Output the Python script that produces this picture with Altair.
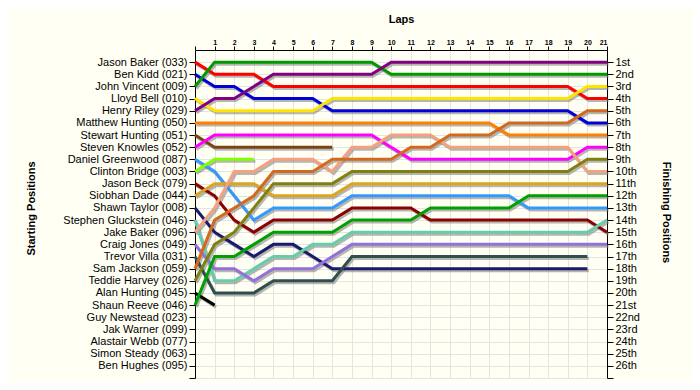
import altair as alt
import pandas as pd

start_names = ["Jason Baker (033)", "Ben Kidd (021)", "John Vincent (009)", "Lloyd Bell (010)",
               "Henry Riley (029)", "Matthew Hunting (050)", "Stewart Hunting (051)",
               "Steven Knowles (052)", "Daniel Greenwood (087)", "Clinton Bridge (003)",
               "Jason Beck (079)", "Siobhan Dade (044)", "Shawn Taylor (008)",
               "Stephen Gluckstein (046)", "Jake Baker (096)", "Craig Jones (049)",
               "Trevor Villa (031)", "Sam Jackson (059)", "Teddie Harvey (026)",
               "Alan Hunting (045)", "Shaun Reeve (046)", "Guy Newstead (023)",
               "Jak Warner (099)", "Alastair Webb (077)", "Simon Steady (063)", "Ben Hughes (095)"]

finish_labels = ["1st", "2nd", "3rd", "4th", "5th", "6th", "7th", "8th", "9th", "10th",
                 "11th", "12th", "13th", "14th", "15th", "16th", "17th", "18th", "19th", "20th",
                 "21st", "22nd", "23rd", "24th", "25th", "26th"]

lap_ticks = list(range(0, 22))

# positions per lap (lap 0 = start), one list per driver
pos_jason_baker = [1, 2, 2, 2, 3, 3, 3, 3, 3, 3, 3, 3, 3, 3, 3, 3, 3, 3, 3, 3, 4, 4]
pos_ben_kidd = [2, 3, 3, 4, 4, 4, 4, 5, 5, 5, 5, 5, 5, 5, 5, 5, 5, 5, 5, 5, 6, 6]
pos_john_vincent = [3, 1, 1, 1, 1, 1, 1, 1, 1, 1, 2, 2, 2, 2, 2, 2, 2, 2, 2, 2, 2, 2]
pos_lloyd_bell = [4, 5, 5, 5, 5, 5, 5, 4, 4, 4, 4, 4, 4, 4, 4, 4, 4, 4, 4, 4, 3, 3]
pos_henry_riley = [5, 4, 4, 3, 2, 2, 2, 2, 2, 2, 1, 1, 1, 1, 1, 1, 1, 1, 1, 1, 1, 1]
pos_matthew_hunting = [6, 6, 6, 6, 6, 6, 6, 6, 6, 6, 6, 6, 6, 6, 6, 6, 7, 7, 7, 7, 7, 7]
pos_stewart_hunting = [7, 8, 8, 8, 8, 8, 8, 8]
pos_steven_knowles = [8, 7, 7, 7, 7, 7, 7, 7, 7, 7, 8, 9, 9, 9, 9, 9, 9, 9, 9, 9, 8, 8]
pos_daniel_greenwood = [9, 10, 12, 14, 13, 13, 13, 13, 12, 12, 12, 12, 12, 12, 12, 12, 12, 13, 13, 13, 13, 13]
pos_clinton_bridge = [10, 9, 9, 9]
pos_jason_beck = [11, 12, 14, 15, 14, 14, 14, 14, 13, 13, 13, 13, 14, 14, 14, 14, 14, 14, 14, 14, 14, 15]
pos_siobhan_dade = [12, 11, 11, 11, 12, 12, 12, 12, 11, 11, 11, 11, 11, 11, 11, 11, 11, 11, 11, 11, 11, 11]
pos_shawn_taylor = [13, 15, 16, 17, 16, 16, 17, 18, 18, 18, 18, 18, 18, 18, 18, 18, 18, 18, 18, 18, 18]
pos_stephen_gluckstein = [14, 19, 19, 18, 17, 17, 16, 16, 15, 15, 15, 15, 15, 15, 15, 15, 15, 15, 15, 15, 15, 14]
pos_jake_baker = [15, 13, 10, 10, 9, 9, 9, 10, 8, 8, 7, 7, 7, 8, 8, 8, 8, 8, 8, 8, 10, 10]
pos_craig_jones = [16, 18, 18, 19, 18, 18, 18, 17, 16, 16, 16, 16, 16, 16, 16, 16, 16, 16, 16, 16, 16, 16]
pos_trevor_villa = [17, 20, 20, 20, 19, 19, 19, 19, 17, 17, 17, 17, 17, 17, 17, 17, 17, 17, 17, 17, 17]
pos_sam_jackson = [18, 14, 13, 12, 10, 10, 10, 9, 9, 9, 9, 8, 8, 7, 7, 7, 6, 6, 6, 6, 5, 5]
pos_teddie_harvey = [19, 16, 15, 13, 11, 11, 11, 11, 10, 10, 10, 10, 10, 10, 10, 10, 10, 10, 10, 10, 9, 9]
pos_alan_hunting = [20, 21]
pos_shaun_reeve = [21, 17, 17, 16, 15, 15, 15, 15, 14, 14, 14, 14, 13, 13, 13, 13, 13, 12, 12, 12, 12, 12]

series = [
    ("Jason Baker (033)", pos_jason_baker, "#FF0000"),
    ("Ben Kidd (021)", pos_ben_kidd, "#0000D8"),
    ("John Vincent (009)", pos_john_vincent, "#009A00"),
    ("Lloyd Bell (010)", pos_lloyd_bell, "#FFE400"),
    ("Henry Riley (029)", pos_henry_riley, "#800080"),
    ("Matthew Hunting (050)", pos_matthew_hunting, "#FF8000"),
    ("Stewart Hunting (051)", pos_stewart_hunting, "#7B4513"),
    ("Steven Knowles (052)", pos_steven_knowles, "#FF00FF"),
    ("Daniel Greenwood (087)", pos_daniel_greenwood, "#3399FF"),
    ("Clinton Bridge (003)", pos_clinton_bridge, "#80FF00"),
    ("Jason Beck (079)", pos_jason_beck, "#8B0000"),
    ("Siobhan Dade (044)", pos_siobhan_dade, "#DAA520"),
    ("Shawn Taylor (008)", pos_shawn_taylor, "#1A1A6E"),
    ("Stephen Gluckstein (046)", pos_stephen_gluckstein, "#66CDAA"),
    ("Jake Baker (096)", pos_jake_baker, "#F5A080"),
    ("Craig Jones (049)", pos_craig_jones, "#9370DB"),
    ("Trevor Villa (031)", pos_trevor_villa, "#2F4F4F"),
    ("Sam Jackson (059)", pos_sam_jackson, "#D2691E"),
    ("Teddie Harvey (026)", pos_teddie_harvey, "#808010"),
    ("Alan Hunting (045)", pos_alan_hunting, "#000000"),
    ("Shaun Reeve (046)", pos_shaun_reeve, "#00A000"),
]

rows = []
for name, positions, _ in series:
    for lap, p in enumerate(positions):
        rows.append({"driver": name, "lap": lap, "pos": p})
df = pd.DataFrame(rows)

driver_domain = [s[0] for s in series]
driver_colors = [s[2] for s in series]

left_arr = "[''," + ",".join("'" + n + "'" for n in start_names) + ",'']"
right_arr = "[''," + ",".join("'" + n + "'" for n in finish_labels) + ",'']"

FONT = "Liberation Sans"

x_enc = alt.X("lap:Q", scale=alt.Scale(domain=[0, 21], nice=False, zero=False),
              axis=alt.Axis(orient="top", values=lap_ticks, title="Laps",
                            labelExpr="datum.value == 0 ? '' : datum.label",
                            labelFontSize=7, labelFontWeight="bold", labelFont=FONT,
                            labelPadding=1, tickSize=4, tickColor="black", domainColor="black",
                            titleFont=FONT, titleFontSize=11, titleFontWeight="bold",
                            titleY=-31, titleBaseline="middle",
                            grid=True, gridColor="#E4E4E4", labelColor="black"))

y_scale = alt.Scale(domain=[27, 0], nice=False, zero=False)

shadow = alt.Chart(df).mark_line(color="#7A7A7A", opacity=0.55, strokeWidth=3,
                                 xOffset=1.5, yOffset=2).encode(
    x=x_enc,
    y=alt.Y("pos:Q", scale=y_scale,
            axis=alt.Axis(orient="left", values=list(range(1, 28)), title="Starting Positions",
                          labelExpr=left_arr + "[datum.value]",
                          labelFont=FONT, labelFontSize=11, labelColor="black",
                          labelPadding=2, tickSize=6, tickColor="black", domainColor="black",
                          titleFont=FONT, titleFontSize=11, titleFontWeight="bold",
                          titleX=-164, titleY=158, titleAngle=-90, titleAlign="center",
                          titleBaseline="middle",
                          grid=True, gridColor="#E4E4E4")),
    detail="driver:N",
)

lines = alt.Chart(df).mark_line(strokeWidth=3).encode(
    x=x_enc,
    y=alt.Y("pos:Q", scale=y_scale,
            axis=alt.Axis(orient="right", values=list(range(1, 28)), title="Finishing Positions",
                          labelExpr=right_arr + "[datum.value]",
                          labelFont=FONT, labelFontSize=11, labelColor="black",
                          labelPadding=2, tickSize=6, tickColor="black", domainColor="black",
                          titleFont=FONT, titleFontSize=11, titleFontWeight="bold",
                          titleX=58, titleY=162, titleAngle=90, titleAlign="center",
                          titleBaseline="middle", grid=False)),
    color=alt.Color("driver:N", scale=alt.Scale(domain=driver_domain, range=driver_colors),
                    legend=None),
)

chart = alt.layer(shadow, lines).resolve_axis(y="independent").properties(
    width=412, height=328,
    autosize=alt.AutoSizeParams(type="none"),
    padding={"left": 187, "top": 42, "right": 85, "bottom": 4},
    background="#FFFFF4",
).configure_view(strokeWidth=0)

chart.save("out.html", embed_options={"renderer": "svg", "actions": False})
